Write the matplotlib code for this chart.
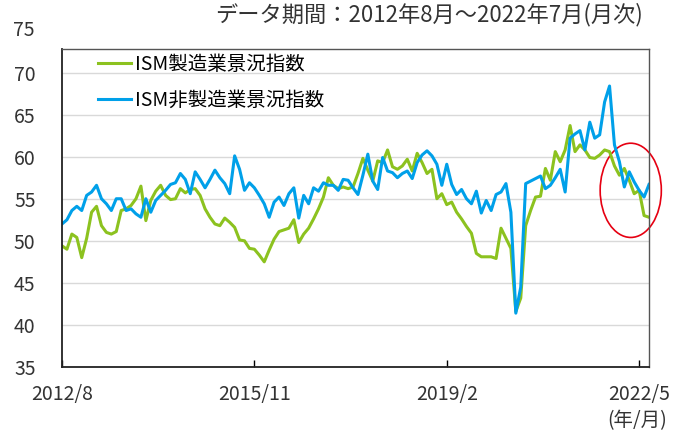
import matplotlib
matplotlib.use("Agg")
import matplotlib.pyplot as plt
from matplotlib.patches import Ellipse
import numpy as np

plt.rcParams['font.family'] = ['Noto Sans CJK JP', 'DejaVu Sans']

# monthly, 2012/8 .. 2022/7 (120 points)
mfg = [49.4, 49.0, 50.8, 50.4, 48.0, 50.3, 53.4, 54.1, 51.8, 51.0,
       50.8, 51.1, 53.6, 53.8, 54.2, 55.0, 56.5, 52.4, 54.8, 55.9,
       56.6, 55.4, 54.9, 55.0, 56.2, 55.7, 56.1, 56.2, 55.4, 53.8,
       52.8, 52.0, 51.8, 52.7, 52.2, 51.6, 50.1, 50.0, 49.1, 49.0,
       48.3, 47.5, 48.9, 50.2, 51.1, 51.3, 51.5, 52.5, 49.8, 50.8,
       51.5, 52.6, 53.8, 55.2, 57.5, 56.6, 56.2, 56.4, 56.2, 56.4,
       58.0, 59.8, 58.4, 57.1, 59.5, 59.3, 60.8, 58.8, 58.5, 58.9,
       59.7, 58.3, 60.4, 59.3, 58.0, 58.5, 55.0, 55.6, 54.3, 54.6,
       53.4, 52.6, 51.7, 50.9, 48.5, 48.1, 48.1, 48.1, 47.9, 51.5,
       50.3, 49.1, 41.6, 43.2, 51.8, 53.6, 55.2, 55.3, 58.6, 57.2,
       60.6, 59.4, 60.8, 63.7, 60.6, 61.4, 60.8, 59.9, 59.8, 60.2,
       60.8, 60.6, 58.9, 57.8, 58.6, 57.2, 55.6, 56.0, 53.0, 52.8]

non_mfg = [52.0, 52.5, 53.6, 54.1, 53.6, 55.4, 55.8, 56.6, 55.0, 54.4,
           53.6, 55.0, 55.0, 53.6, 53.8, 53.2, 52.8, 55.0, 53.4, 54.8,
           55.4, 56.0, 56.7, 56.9, 58.0, 57.3, 55.6, 58.2, 57.3, 56.3,
           57.3, 58.4, 57.5, 56.8, 55.6, 60.1, 58.5, 56.0, 56.9, 56.3,
           55.4, 54.4, 52.8, 54.6, 55.2, 54.2, 55.6, 56.3, 52.7, 55.4,
           54.4, 56.3, 55.9, 56.9, 56.6, 56.6, 56.0, 57.3, 57.2, 56.3,
           55.5, 57.8, 60.3, 57.1, 56.1, 59.9, 58.3, 58.1, 57.5, 58.0,
           58.3, 57.4, 59.3, 60.2, 60.7, 60.1, 59.1, 56.6, 59.1, 56.7,
           55.5, 56.1, 55.0, 54.4, 55.9, 53.3, 54.8, 53.6, 55.5, 55.8,
           56.8, 53.4, 41.4, 44.5, 56.8, 57.1, 57.4, 57.7, 56.2, 56.6,
           57.5, 58.5, 55.8, 62.2, 62.7, 63.1, 60.8, 64.1, 62.2, 62.6,
           66.5, 68.4, 61.4, 59.4, 56.4, 58.2, 57.0, 56.0, 55.2, 56.7]

tick_idx = [0, 39, 78, 117]
tick_labels = ['2012/8', '2015/11', '2019/2', '2022/5']
y_ticks = [35, 40, 45, 50, 55, 60, 65, 70]

green = '#8cc21f'
blue = '#00a0e9'
txt = '#333333'

x = np.arange(len(mfg))

fig = plt.figure(figsize=(6.8, 4.32), dpi=100)
ax = fig.add_axes([62 / 680, 1 - 367 / 432, 587 / 680, 318 / 432])

ax.plot(x, mfg, color=green, lw=2.2, label='ISM製造業景況指数')
ax.plot(x, non_mfg, color=blue, lw=2.2, label='ISM非製造業景況指数')

ax.set_xlim(0, len(mfg) - 1)
ax.set_ylim(35, 72.8)
ax.set_yticks(y_ticks)
ax.set_xticks(tick_idx)
ax.set_xticklabels(tick_labels)
ax.grid(axis='y', color='#d9d9d9', lw=1)
ax.set_axisbelow(True)

ax.tick_params(axis='y', length=0, pad=19, labelsize=14, labelcolor=txt)
ax.tick_params(axis='x', direction='in', length=5, width=1, pad=12,
               labelsize=14, labelcolor=txt)
for s in ['left', 'bottom']:
    ax.spines[s].set_color('#222222')
    ax.spines[s].set_linewidth(1.3)
for s in ['top', 'right']:
    ax.spines[s].set_color('#555555')
    ax.spines[s].set_linewidth(1.0)

# "75" sits above the frame
ax.text(-27 / 587, 75, '75', transform=ax.get_yaxis_transform(), ha='right',
        va='center', fontsize=14, color=txt, clip_on=False)

ax.legend(loc='upper left', bbox_to_anchor=(36 / 587, 0.985), frameon=False,
          fontsize=14, handlelength=1.7, handletextpad=0.2, labelspacing=0.75,
          borderpad=0, borderaxespad=0)

ax.add_patch(Ellipse((115.3, 56.0), 12.4, 11.2, fill=False, edgecolor='#e60012',
                     lw=1.2, clip_on=False))

fig.text(643 / 680, 1 - 15 / 432, 'データ期間：2012年8月～2022年7月(月次)',
         ha='right', va='center', fontsize=16, color=txt)
fig.text(637 / 680, 1 - 421 / 432, '(年/月)', ha='center', va='center',
         fontsize=14, color=txt)

fig.savefig('out.png', dpi=100)
